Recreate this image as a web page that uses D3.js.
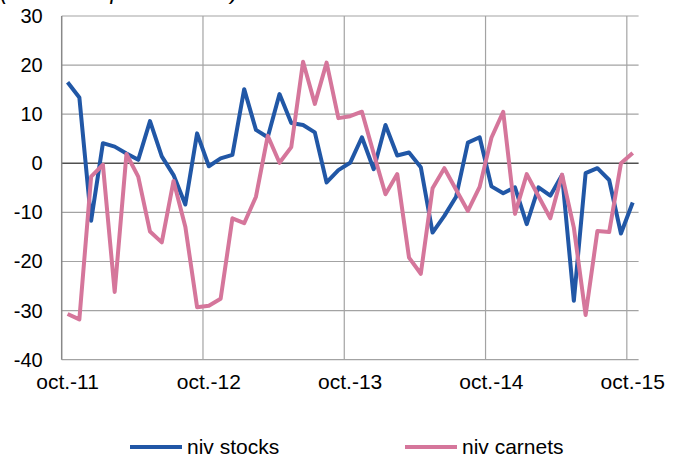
<!DOCTYPE html>
<html>
<head>
<meta charset="utf-8">
<script src="https://cdn.jsdelivr.net/npm/d3@7/dist/d3.min.js"></script>
<style>
  html, body { margin: 0; padding: 0; background: #fff; }
  svg { display: block; }
  text { font-family: "Liberation Sans", Arial, sans-serif; fill: #000; }
</style>
</head>
<body>
<svg id="chart" width="681" height="459"></svg>
<script>
// ---- data ----
const months = d3.range(49); // oct.-11 .. oct.-15, monthly
const tickLabels = ["oct.-11", "oct.-12", "oct.-13", "oct.-14", "oct.-15"];
const tickIndex = [0, 12, 24, 36, 48];
const yTicks = [-40, -30, -20, -10, 0, 10, 20, 30];
const seriesNames = ["niv stocks", "niv carnets"];
const nivStocks = [16.5, 13.4, -11.7, 4.1, 3.4, 2.0, 0.7, 8.6, 1.4, -2.4, -8.4, 6.1,
  -0.6, 1.0, 1.7, 15.1, 6.8, 5.3, 14.1, 8.2, 7.8, 6.3, -3.9, -1.4,
  0.1, 5.3, -1.2, 7.8, 1.6, 2.2, -0.8, -14.1, -10.7, -6.8, 4.2, 5.3,
  -4.7, -6.1, -4.9, -12.4, -4.9, -6.6, -2.4, -28.0, -2.0, -1.0, -3.4, -14.3,
  -8.0];
const nivCarnets = [-30.7, -31.8, -2.7, -0.3, -26.2, 1.9, -2.7, -13.9, -16.1, -3.6, -12.9, -29.3,
  -29.0, -27.6, -11.2, -12.2, -6.8, 5.6, 0.1, 3.3, 20.7, 12.1, 20.5, 9.2,
  9.6, 10.5, 2.0, -6.3, -2.2, -19.2, -22.5, -5.1, -1.0, -5.4, -9.7, -4.8,
  5.2, 10.5, -10.3, -2.2, -6.7, -11.2, -2.3, -13.1, -30.9, -13.8, -14.0, 0.0,
  2.1];
const colors = ["#2157A6", "#D5769B"];
const subtitle = "(soldes d'opinion en %)";

// ---- layout ----
const svg = d3.select("#chart");
const plotL = 61.7, plotR = 638.6, plotT = 16, plotB = 359.7;

const x = d3.scaleBand().domain(months).range([plotL, plotR]).padding(0);
const y = d3.scaleLinear().domain([-40, 30]).range([plotB, plotT]);
const cx = i => x(i) + x.bandwidth() / 2;

// cut-off subtitle at very top (only descenders visible, as in the reference)
svg.append("text")
  .attr("x", 0).attr("y", -1.5)
  .attr("font-size", 23).attr("font-style", "italic")
  .text(subtitle);

// horizontal gridlines
svg.append("g").selectAll("line")
  .data(yTicks.filter(v => v !== 0))
  .join("line")
  .attr("x1", plotL).attr("x2", plotR)
  .attr("y1", d => y(d)).attr("y2", d => y(d))
  .attr("stroke", "#A3A3A3").attr("stroke-width", 1.2);

// vertical gridlines at year boundaries
svg.append("g").selectAll("line")
  .data(tickIndex.slice(1))
  .join("line")
  .attr("x1", d => x(d)).attr("x2", d => x(d))
  .attr("y1", plotT).attr("y2", plotB)
  .attr("stroke", "#A3A3A3").attr("stroke-width", 1.2);

// zero line
svg.append("line")
  .attr("x1", plotL).attr("x2", plotR)
  .attr("y1", y(0)).attr("y2", y(0))
  .attr("stroke", "#505050").attr("stroke-width", 1.5);

// left axis line
svg.append("line")
  .attr("x1", plotL).attr("x2", plotL)
  .attr("y1", plotT).attr("y2", plotB)
  .attr("stroke", "#888").attr("stroke-width", 1.5);

// y axis labels
const yAxis = d3.axisLeft(y).tickValues(yTicks).tickSize(0).tickPadding(19)
  .tickFormat(d => String(d));
const gy = svg.append("g").attr("transform", `translate(${plotL},0)`).call(yAxis);
gy.select(".domain").remove();
gy.selectAll("text").attr("font-size", 20).attr("fill", "#000")
  .style("font-family", '"Liberation Sans", Arial, sans-serif');

// x axis labels
const xAxis = d3.axisBottom(x).tickValues(tickIndex).tickSize(0).tickPadding(14)
  .tickFormat((d, i) => tickLabels[i]);
const gx = svg.append("g").attr("transform", `translate(0,${plotB})`).call(xAxis);
gx.select(".domain").remove();
gx.selectAll("text").attr("font-size", 21).attr("fill", "#000")
  .style("font-family", '"Liberation Sans", Arial, sans-serif');

// lines
const line = d3.line().x((d, i) => cx(i)).y(d => y(d));
[nivStocks, nivCarnets].forEach((s, k) => {
  svg.append("path")
    .datum(s)
    .attr("d", line)
    .attr("fill", "none")
    .attr("stroke", colors[k])
    .attr("stroke-width", 4)
    .attr("stroke-linejoin", "round");
});

// legend
const legX = [130, 405];
seriesNames.forEach((name, k) => {
  const g = svg.append("g").attr("transform", `translate(${legX[k]},447)`);
  g.append("line").attr("x1", 0).attr("x2", 52).attr("y1", 0).attr("y2", 0)
    .attr("stroke", colors[k]).attr("stroke-width", 4);
  g.append("text").attr("x", 57).attr("y", 0).attr("dy", "0.35em")
    .attr("font-size", 21).text(name);
});
</script>
</body>
</html>
